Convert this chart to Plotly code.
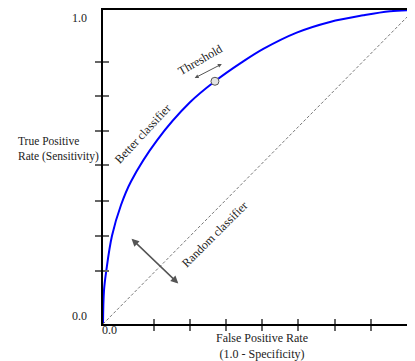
import plotly.graph_objects as go

# ROC curve
roc_fpr = [0.0, 0.0032, 0.0106, 0.0289, 0.0579, 0.0900, 0.1736, 0.2797, 0.3601, 0.4460, 0.5154, 0.6228, 0.7299, 0.8370, 0.9228, 1.0]
roc_tpr = [0.0, 0.107, 0.170, 0.281, 0.379, 0.454, 0.585, 0.706, 0.773, 0.833, 0.876, 0.928, 0.962, 0.983, 0.996, 1.0]

random_fpr = [0.0, 1.0]
random_tpr = [0.0, 1.0]

threshold_point = (0.360, 0.773)

x_tick_vals = [0.163, 0.280, 0.395, 0.511, 0.627, 0.746, 0.862]
y_tick_vals = [0.169, 0.281, 0.392, 0.505, 0.615, 0.726, 0.836]
axis_tick_labels = ["0.0", "1.0"]

FONT = "Liberation Serif"
TXT = "#222222"
GRAY = "#555555"

fig = go.Figure()

fig.add_trace(go.Scatter(x=random_fpr, y=random_tpr, mode="lines",
                         line=dict(color="#777777", width=1, dash="3px,2px"),
                         xaxis="x2", yaxis="y2", hoverinfo="skip", showlegend=False))
fig.add_trace(go.Scatter(x=roc_fpr, y=roc_tpr, mode="lines", line_shape="spline",
                         line=dict(color="#0000ff", width=2), showlegend=False))
fig.add_trace(go.Scatter(x=[threshold_point[0]], y=[threshold_point[1]], mode="markers",
                         marker=dict(size=8, color="#e4e4e4", line=dict(color=GRAY, width=1)),
                         showlegend=False))

axis_common = dict(range=[0, 1], showgrid=False, zeroline=False, showticklabels=False,
                   tickmode="array", tickcolor="#666666", tickwidth=1.5)

fig.update_layout(
    width=415, height=361,
    margin=dict(l=95, r=9, t=0, b=45),
    paper_bgcolor="white", plot_bgcolor="white",
    font=dict(family=FONT, size=12, color=TXT),
    xaxis=dict(**axis_common, tickvals=x_tick_vals, ticks="outside", ticklen=5,
               showline=True, linecolor="black", linewidth=2, mirror=True),
    yaxis=dict(**axis_common, tickvals=y_tick_vals, ticks="outside", ticklen=6,
               showline=True, linecolor="black", linewidth=2),
    xaxis2=dict(**axis_common, tickvals=x_tick_vals, ticks="inside", ticklen=5,
                overlaying="x", anchor="y2", side="bottom"),
    yaxis2=dict(**axis_common, tickvals=y_tick_vals, ticks="inside", ticklen=6,
                overlaying="y", anchor="x2", side="left"),
)

ann = []
# tick labels
ann.append(dict(text=axis_tick_labels[1], xref="paper", yref="paper", x=0, y=0.973,
                xanchor="right", yanchor="middle", xshift=-14, showarrow=False))
ann.append(dict(text=axis_tick_labels[0], xref="paper", yref="paper", x=0, y=0.027,
                xanchor="right", yanchor="middle", xshift=-14, showarrow=False))
ann.append(dict(text=axis_tick_labels[0], xref="paper", yref="paper", x=0, y=-0.02,
                xanchor="left", yanchor="middle", xshift=-3, showarrow=False))
ann.append(dict(text=axis_tick_labels[1], xref="paper", yref="paper", x=0.971, y=-0.02,
                xanchor="left", yanchor="middle", showarrow=False))
# axis titles
ann.append(dict(text="True Positive<br>Rate (Sensitivity)", xref="paper", yref="paper",
                x=0, y=0.556, xanchor="right", yanchor="middle", xshift=-2.5,
                align="left", font=dict(size=11.5), showarrow=False))
ann.append(dict(text="False Positive Rate<br>(1.0 - Specificity)", xref="paper", yref="paper",
                x=0.511, y=-0.069, xanchor="center", yanchor="middle", showarrow=False))
# labels in the plot
ann.append(dict(text="Threshold", x=0.312, y=0.840, textangle=-30, showarrow=False))
ann.append(dict(text="Better classifier", x=0.127, y=0.605, textangle=-47, showarrow=False))
ann.append(dict(text="Random classifier", x=0.360, y=0.287, textangle=-45, showarrow=False))
# double arrows
ann.append(dict(text="", x=0.382, y=0.828, ax=0.290, ay=0.781, axref="x", ayref="y",
                showarrow=True, arrowside="end+start", arrowhead=2, arrowsize=0.8,
                arrowwidth=1, arrowcolor=GRAY))
ann.append(dict(text="", x=0.242, y=0.129, ax=0.087, ay=0.276, axref="x", ayref="y",
                showarrow=True, arrowside="end+start", arrowhead=2, arrowsize=1,
                arrowwidth=1.5, arrowcolor=GRAY))
fig.update_layout(annotations=ann)

fig.write_html("out.html")
